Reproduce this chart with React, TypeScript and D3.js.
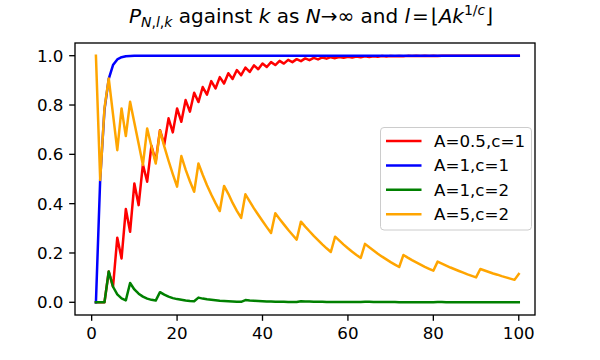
import * as d3 from "d3";

// k = 1..100 along the x axis
const ks = d3.range(1, 101);

// A=0.5, c=1
const redVals = [
  0, 0, 0, 0.125, 0.063, 0.262, 0.178, 0.378, 0.286, 0.482,
  0.394, 0.559, 0.489, 0.635, 0.572, 0.698, 0.64, 0.746, 0.689, 0.786,
  0.732, 0.82, 0.773, 0.85, 0.812, 0.873, 0.842, 0.897, 0.867, 0.913,
  0.887, 0.929, 0.906, 0.942, 0.921, 0.952, 0.934, 0.961, 0.945, 0.968,
  0.954, 0.974, 0.962, 0.979, 0.968, 0.983, 0.974, 0.986, 0.978, 0.989,
  0.982, 0.991, 0.985, 0.993, 0.988, 0.994, 0.99, 0.995, 0.992, 0.996,
  0.993, 0.997, 0.994, 0.9975, 0.995, 0.998, 0.996, 0.9985, 0.997, 0.999,
  0.9975, 0.999, 0.998, 0.9993, 0.9985, 0.9995, 0.9988, 0.9996, 0.999, 0.9997,
  0.9992, 0.9998, 0.9994, 0.9998, 0.9995, 0.9999, 0.9996, 0.9999, 0.9997, 0.9999,
  0.9998, 1, 0.9998, 1, 0.9999, 1, 0.9999, 1, 0.9999, 1,
];

// A=1, c=1
const blueVals = [
  0, 0.5, 0.78, 0.906, 0.962, 0.985, 0.994, 0.998, 0.999, 1,
  1, 1, 1, 1, 1, 1, 1, 1, 1, 1,
  1, 1, 1, 1, 1, 1, 1, 1, 1, 1,
  1, 1, 1, 1, 1, 1, 1, 1, 1, 1,
  1, 1, 1, 1, 1, 1, 1, 1, 1, 1,
  1, 1, 1, 1, 1, 1, 1, 1, 1, 1,
  1, 1, 1, 1, 1, 1, 1, 1, 1, 1,
  1, 1, 1, 1, 1, 1, 1, 1, 1, 1,
  1, 1, 1, 1, 1, 1, 1, 1, 1, 1,
  1, 1, 1, 1, 1, 1, 1, 1, 1, 1,
];

// A=1, c=2
const greenVals = [
  0, 0, 0, 0.125, 0.063, 0.032, 0.016, 0.008, 0.078, 0.052,
  0.035, 0.023, 0.015, 0.01, 0.007, 0.041, 0.031, 0.023, 0.017, 0.013,
  0.01, 0.007, 0.005, 0.004, 0.019, 0.015, 0.012, 0.01, 0.008, 0.006,
  0.005, 0.004, 0.003, 0.002, 0.002, 0.009, 0.007, 0.006, 0.005, 0.004,
  0.003, 0.003, 0.002, 0.002, 0.002, 0.001, 0.001, 0.001, 0.004, 0.003,
  0.003, 0.002, 0.002, 0.002, 0.001, 0.001, 0.001, 0.001, 0.001, 0.001,
  0.001, 0.001, 0.001, 0.002, 0.002, 0.001, 0.001, 0.001, 0.001, 0.001,
  0.001, 0, 0, 0, 0, 0, 0, 0, 0, 0,
  0.001, 0.001, 0, 0, 0, 0, 0, 0, 0, 0,
  0, 0, 0, 0, 0, 0, 0, 0, 0, 0,
];

// A=5, c=2
const orangeVals = [
  1.0, 0.496, 0.787, 0.908, 0.762, 0.617, 0.786, 0.674, 0.813, 0.728,
  0.643, 0.557, 0.705, 0.632, 0.563, 0.696, 0.632, 0.574, 0.52, 0.469,
  0.593, 0.538, 0.491, 0.448, 0.563, 0.517, 0.475, 0.437, 0.402, 0.37,
  0.472, 0.44, 0.403, 0.371, 0.342, 0.438, 0.409, 0.381, 0.355, 0.33,
  0.305, 0.281, 0.361, 0.338, 0.316, 0.294, 0.274, 0.254, 0.327, 0.307,
  0.288, 0.269, 0.252, 0.235, 0.219, 0.204, 0.266, 0.25, 0.234, 0.219,
  0.205, 0.192, 0.18, 0.237, 0.223, 0.21, 0.197, 0.185, 0.174, 0.163,
  0.153, 0.143, 0.192, 0.181, 0.171, 0.162, 0.153, 0.144, 0.136, 0.128,
  0.165, 0.157, 0.149, 0.141, 0.134, 0.127, 0.12, 0.113, 0.107, 0.101,
  0.135, 0.129, 0.123, 0.117, 0.112, 0.106, 0.101, 0.096, 0.091, 0.115,
];

const seriesLabels = ["A=0.5,c=1", "A=1,c=1", "A=1,c=2", "A=5,c=2"];
const seriesColors = ["#ff0000", "#0000ff", "#008000", "#ffa500"];
const seriesVals = [redVals, blueVals, greenVals, orangeVals];

const xTicks = [0, 20, 40, 60, 80, 100];
const yTicks = [0, 0.2, 0.4, 0.6, 0.8, 1.0];

const W = 600;
const H = 360;
const left = 75, right = 535, top = 43, bottom = 315;
const font = "'DejaVu Sans', sans-serif";

const App = () => {
  const x = d3.scaleLinear().domain([-3.9, 103.8]).range([left, right]);
  const y = d3.scaleLinear().domain([-0.0515, 1.0515]).range([bottom, top]);

  const line = d3
    .line<number>()
    .x((_, i) => x(ks[i]))
    .y((d) => y(d));

  const titleX = (left + right) / 2 + 6;

  return (
    <svg
      width={W}
      height={H}
      style={{ position: "absolute", left: 0, top: 0, background: "white" }}
      fontFamily={font}
    >
      {/* title */}
      <text x={titleX} y={23} textAnchor="middle" fontSize={20} fill="#000" style={{ whiteSpace: "pre" }}>
        <tspan fontStyle="italic">P</tspan>
        <tspan fontSize={14} dy={4}>
          <tspan fontStyle="italic">N</tspan>,<tspan fontStyle="italic">l</tspan>,<tspan fontStyle="italic">k</tspan>
        </tspan>
        <tspan dy={-4}>{" against "}</tspan>
        <tspan fontStyle="italic">k</tspan>
        <tspan>{" as "}</tspan>
        <tspan fontStyle="italic">N</tspan>
        <tspan>{"→∞ and "}</tspan>
        <tspan fontStyle="italic">l</tspan>
        <tspan>{"\u200a=\u200a⌊"}</tspan>
        <tspan fontStyle="italic">Ak</tspan>
        <tspan fontSize={14} dy={-8}>1/</tspan>
        <tspan fontSize={14} fontStyle="italic">c</tspan>
        <tspan dy={8}>⌋</tspan>
      </text>

      <defs>
        <clipPath id="plotClip">
          <rect x={left} y={top} width={right - left} height={bottom - top} />
        </clipPath>
      </defs>

      {/* series */}
      <g clipPath="url(#plotClip)">
        {seriesVals.map((vals, i) => (
          <path
            key={seriesLabels[i]}
            d={line(vals) || ""}
            fill="none"
            stroke={seriesColors[i]}
            strokeWidth={2.5}
            strokeLinejoin="round"
            strokeLinecap="square"
          />
        ))}
      </g>

      {/* frame */}
      <rect
        x={left}
        y={top}
        width={right - left}
        height={bottom - top}
        fill="none"
        stroke="#000"
        strokeWidth={1.33}
      />

      {/* x axis */}
      {xTicks.map((t) => (
        <g key={"x" + t}>
          <line x1={x(t)} x2={x(t)} y1={bottom} y2={bottom + 5.8} stroke="#000" strokeWidth={1.33} />
          <text x={x(t)} y={339} textAnchor="middle" fontSize={16.7} fill="#000">
            {t}
          </text>
        </g>
      ))}

      {/* y axis */}
      {yTicks.map((t) => (
        <g key={"y" + t}>
          <line x1={left - 5.8} x2={left} y1={y(t)} y2={y(t)} stroke="#000" strokeWidth={1.33} />
          <text x={left - 11.5} y={y(t)} dy="0.36em" textAnchor="end" fontSize={16.7} fill="#000">
            {t.toFixed(1)}
          </text>
        </g>
      ))}

      {/* legend */}
      <g>
        <rect
          x={380.5}
          y={127.5}
          width={151}
          height={102.5}
          rx={3.5}
          fill="white"
          fillOpacity={0.8}
          stroke="#cccccc"
          strokeWidth={1}
        />
        {seriesLabels.map((lab, i) => {
          const ly = 141 + i * 24.4;
          return (
            <g key={lab}>
              <line x1={386} x2={421.5} y1={ly} y2={ly} stroke={seriesColors[i]} strokeWidth={2.5} />
              <text x={434} y={ly} dy="0.36em" fontSize={16.7} fill="#000">
                {lab}
              </text>
            </g>
          );
        })}
      </g>
    </svg>
  );
};

export default App;
